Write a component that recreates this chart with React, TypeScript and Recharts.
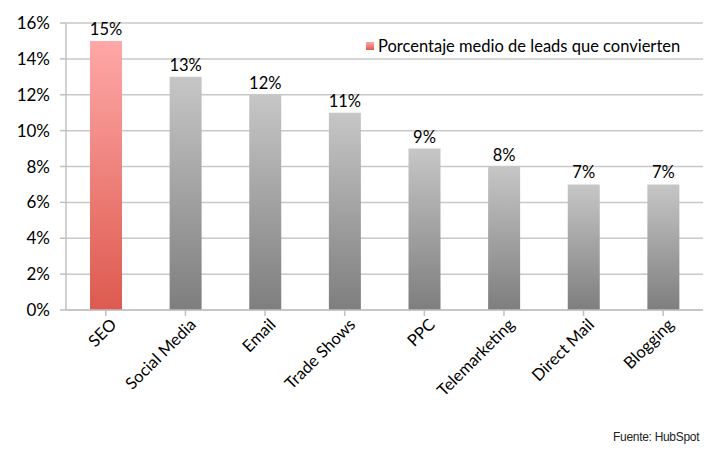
import React from "react";
import { BarChart, Bar, XAxis, YAxis, CartesianGrid, LabelList, Cell } from "recharts";

const categories = ["SEO", "Social Media", "Email", "Trade Shows", "PPC", "Telemarketing", "Direct Mail", "Blogging"];
const conversion = [15, 13, 12, 11, 9, 8, 7, 7];
const yTicks = [0, 2, 4, 6, 8, 10, 12, 14, 16];
const seriesName = "Porcentaje medio de leads que convierten";
const sourceNote = "Fuente: HubSpot";

const data = categories.map((name, i) => ({ name, value: conversion[i] }));

const FONT = "Lato, 'Open Sans', sans-serif";

const AngledTick = ({ x, y, payload }: any) => (
  <g transform={`translate(${x + 6},${y + 2})`}>
    <text
      x={0}
      y={0}
      dy={8}
      textAnchor="end"
      transform="rotate(-45)"
      fill="#000"
      fontSize={16.5}
      fontFamily={FONT}
    >
      {payload.value}
    </text>
  </g>
);

export default function App() {
  return (
    <div style={{ position: "absolute", left: 0, top: 0, width: 720, height: 457, background: "#fff" }}>
      <BarChart
        width={720}
        height={457}
        data={data}
        margin={{ top: 23, right: 17, left: 0, bottom: 37 }}
      >
        <defs>
          <linearGradient id="redFill" x1="0" y1="0" x2="0" y2="1">
            <stop offset="0%" stopColor="#fea8a7" />
            <stop offset="100%" stopColor="#dd5a4f" />
          </linearGradient>
          <linearGradient id="grayFill" x1="0" y1="0" x2="0" y2="1">
            <stop offset="0%" stopColor="#c6c6c6" />
            <stop offset="100%" stopColor="#7e7e7e" />
          </linearGradient>
        </defs>
        <CartesianGrid vertical={false} stroke="#c8c8c8" strokeWidth={1.5} />
        <XAxis
          dataKey="name"
          interval={0}
          height={110}
          stroke="#c0c0c0"
          strokeWidth={1.5}
          tickSize={6}
          tick={<AngledTick />}
        />
        <YAxis
          width={66}
          domain={[0, 16]}
          ticks={yTicks}
          interval={0}
          stroke="#c0c0c0"
          strokeWidth={1.5}
          tickSize={6}
          tickMargin={10}
          tickFormatter={(v) => `${v}%`}
          tick={{ fontSize: 17, fill: "#000", fontFamily: FONT }}
        />
        <Bar dataKey="value" name={seriesName} barSize={32} isAnimationActive={false}>
          {data.map((d, i) => (
            <Cell key={d.name} fill={i === 0 ? "url(#redFill)" : "url(#grayFill)"} />
          ))}
          <LabelList
            dataKey="value"
            position="top"
            offset={6}
            formatter={(v: any) => `${v}%`}
            style={{ fontSize: 16.5, fill: "#000", fontFamily: FONT }}
          />
        </Bar>
      </BarChart>
      {/* legend sits inside the plot, over the gridlines */}
      <div
        style={{
          position: "absolute",
          left: 366,
          top: 36,
          display: "flex",
          alignItems: "center",
          fontFamily: FONT,
          fontSize: 16.5,
          color: "#000",
          background: "#fff",
          whiteSpace: "nowrap",
        }}
      >
        <span
          style={{
            width: 8,
            height: 8,
            marginRight: 4,
            background: "linear-gradient(#fea7a6, #dd5a4f)",
            display: "inline-block",
          }}
        />
        {seriesName}
      </div>
      <div
        style={{
          position: "absolute",
          left: 613,
          top: 430,
          fontFamily: "'Liberation Sans', Arial, sans-serif",
          fontSize: 12,
          color: "#222",
          letterSpacing: -0.3,
        }}
      >
        {sourceNote}
      </div>
    </div>
  );
}
